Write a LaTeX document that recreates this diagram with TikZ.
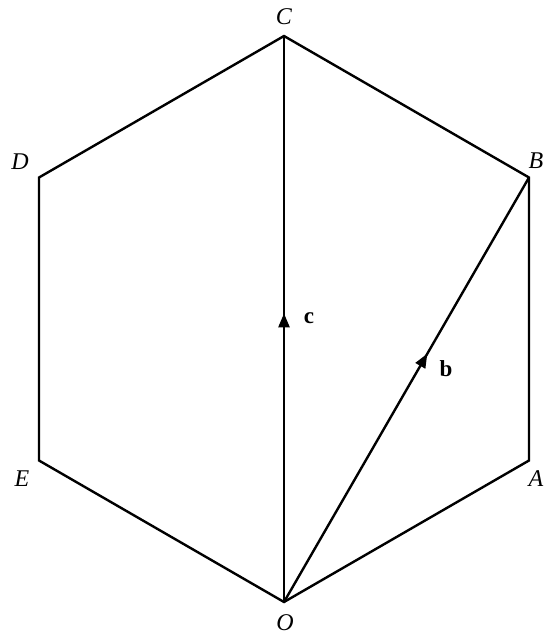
\documentclass[tikz,border=0pt]{standalone}
\usepackage{fontspec}
\setmainfont{Liberation Serif}
\usetikzlibrary{arrows.meta,decorations.markings}
\begin{document}
\begin{tikzpicture}[x=1pt,y=-1pt,
  edge/.style={line width=2.4pt,line join=miter},
  lbl/.style={font=\fontsize{24}{24}\selectfont\itshape,inner sep=0pt},
  vlbl/.style={font=\fontsize{23}{23}\selectfont\bfseries,inner sep=0pt},
  midarrow/.style={postaction={decorate},decoration={markings,
    mark=at position #1 with {\arrow{Triangle[length=14pt,width=11pt]}}}}]
\useasboundingbox (0,0) rectangle (545,635);
\coordinate (O) at (284,602);
\coordinate (A) at (529,460.5);
\coordinate (B) at (529,177.5);
\coordinate (C) at (284,36);
\coordinate (D) at (39,177.5);
\coordinate (E) at (39,460.5);
\draw[edge] (O) -- (A) -- (B) -- (C) -- (D) -- (E) -- cycle;
\draw[edge,midarrow=0.51] (O) -- (C);
\draw[edge,midarrow=0.585] (O) -- (B);
\node[lbl] (lC) at (284,17) {C};
\node[lbl] (lD) at (20,162) {D};
\node[lbl] (lB) at (536,161) {B};
\node[lbl] (lE) at (22,479) {E};
\node[lbl] (lA) at (536,479) {A};
\node[lbl] (lO) at (285,623) {O};
\node[vlbl] (lc) at (309,318) {c};
\node[vlbl] (lb) at (446,369) {b};
\end{tikzpicture}
\end{document}
